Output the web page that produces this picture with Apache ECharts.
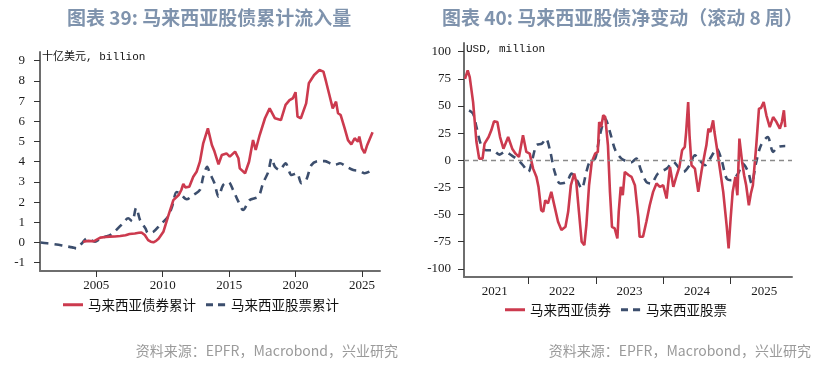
<!DOCTYPE html>
<html>
<head>
<meta charset="utf-8">
<script src="https://cdn.jsdelivr.net/npm/echarts@6/dist/echarts.min.js"></script>
<style>
html,body{margin:0;padding:0;background:#fff;}
#c{width:838px;height:365px;}
</style>
</head>
<body>
<div id="c"></div>
<script>
// ---------- Chart 39: cumulative flows (billion USD) ----------
const cumTitle = '图表 39: 马来西亚股债累计流入量';
const cumUnit = '十亿美元, billion';
const cumYTicks = [-1, 0, 1, 2, 3, 4, 5, 6, 7, 8, 9];
const cumXTicks = [2005, 2010, 2015, 2020, 2025];
const bondCumName = '马来西亚债券累计';
const equityCumName = '马来西亚股票累计';
const bondCumYears = [2004.0,2004.4,2004.8,2005.3,2005.7,2006.0,2006.4,2006.8,2007.2,2007.5,2007.9,2008.2,2008.4,2008.65,2008.9,2009.1,2009.3,2009.5,2009.7,2010.05,2010.4,2010.8,2011.2,2011.4,2011.55,2011.7,2012.0,2012.3,2012.55,2012.8,2013.05,2013.4,2013.7,2013.9,2014.2,2014.45,2014.8,2015.05,2015.45,2015.7,2015.8,2016.2,2016.5,2016.8,2017.0,2017.3,2017.7,2018.05,2018.45,2018.9,2019.25,2019.55,2019.8,2020.0,2020.15,2020.4,2020.8,2021.0,2021.4,2021.8,2022.1,2022.3,2022.55,2022.8,2023.05,2023.2,2023.4,2023.7,2023.95,2024.2,2024.45,2024.7,2024.8,2025.0,2025.2,2025.4,2025.8];
const bondCumVals = [0.04,0.08,0.06,0.24,0.27,0.29,0.30,0.32,0.36,0.42,0.45,0.48,0.50,0.37,0.12,0.04,0.01,0.08,0.20,0.53,1.28,2.10,2.35,2.60,2.90,2.73,2.76,3.26,3.50,4.00,4.91,5.65,4.83,4.50,3.87,4.33,4.41,4.25,4.50,4.17,3.67,3.43,4.00,5.07,4.58,5.32,6.15,6.64,6.15,6.06,6.81,7.05,7.14,7.44,6.23,6.15,6.89,7.88,8.29,8.54,8.46,7.96,7.30,6.64,6.97,6.40,6.31,5.65,5.07,4.86,5.16,4.99,5.24,4.66,4.42,4.83,5.46];
const equityCumYears = [2000.8,2001.3,2002.0,2002.6,2003.2,2003.5,2003.9,2004.3,2004.9,2005.3,2005.65,2006.0,2006.4,2007.0,2007.4,2007.7,2008.0,2008.3,2008.7,2008.9,2009.3,2009.8,2010.4,2010.7,2011.05,2011.3,2011.8,2012.3,2012.8,2013.05,2013.35,2013.55,2013.9,2014.2,2014.55,2014.95,2015.3,2015.7,2016.05,2016.55,2017.2,2017.55,2017.95,2018.2,2018.45,2018.8,2019.25,2019.7,2020.1,2020.45,2020.8,2021.2,2021.7,2022.2,2022.6,2022.95,2023.35,2023.85,2024.35,2024.85,2025.2,2025.8];
const equityCumVals = [0.00,-0.04,-0.10,-0.17,-0.24,-0.29,-0.05,0.20,0.04,0.20,0.29,0.35,0.55,0.95,1.20,1.05,1.72,1.10,0.70,0.46,0.53,0.87,1.28,1.77,2.50,2.43,2.14,2.35,2.60,3.26,3.75,3.43,2.93,2.27,2.85,3.00,2.60,2.02,1.61,2.10,2.27,2.93,3.50,4.17,3.75,3.59,3.92,3.34,3.43,2.93,3.09,3.84,4.03,4.03,3.92,3.84,3.92,3.75,3.59,3.54,3.43,3.59];

// ---------- Chart 40: rolling 8-week net change (million USD) ----------
const netTitle = '图表 40: 马来西亚股债净变动（滚动 8 周）';
const netUnit = 'USD, million';
const netYTicks = [-100, -75, -50, -25, 0, 25, 50, 75, 100];
const netXTicks = [2022, 2023, 2024, 2025];
const netXLabels = [2021.5, 2022.5, 2023.5, 2024.5, 2025.5];
const bondNetName = '马来西亚债券';
const equityNetName = '马来西亚股票';
const bondNetYears = [2021.06,2021.10,2021.13,2021.18,2021.23,2021.27,2021.32,2021.35,2021.41,2021.45,2021.49,2021.54,2021.58,2021.63,2021.70,2021.76,2021.81,2021.86,2021.92,2021.97,2022.02,2022.07,2022.12,2022.15,2022.19,2022.22,2022.25,2022.29,2022.34,2022.39,2022.44,2022.49,2022.55,2022.59,2022.63,2022.68,2022.71,2022.75,2022.79,2022.83,2022.86,2022.90,2022.94,2022.99,2023.03,2023.05,2023.08,2023.11,2023.14,2023.18,2023.21,2023.24,2023.28,2023.32,2023.34,2023.37,2023.40,2023.43,2023.45,2023.49,2023.53,2023.58,2023.63,2023.65,2023.70,2023.75,2023.80,2023.85,2023.90,2023.95,2024.00,2024.05,2024.10,2024.15,2024.20,2024.24,2024.28,2024.32,2024.34,2024.37,2024.39,2024.42,2024.47,2024.52,2024.57,2024.62,2024.64,2024.67,2024.70,2024.74,2024.76,2024.79,2024.84,2024.89,2024.94,2024.97,2025.00,2025.03,2025.07,2025.10,2025.13,2025.17,2025.20,2025.23,2025.27,2025.30,2025.33,2025.38,2025.42,2025.45,2025.49,2025.53,2025.58,2025.63,2025.68,2025.73,2025.76,2025.79,2025.81];
const bondNetVals = [75,82.7,76.6,53.6,16.8,1.5,1.5,15.3,21.4,27.6,35.8,35.2,21.4,10.7,21.4,10.7,6.1,3.1,23.0,7.7,6.1,-7.7,-15.3,-24.5,-46,-47.5,-36.8,-39.8,-29.1,-42.9,-56.7,-64.3,-61.3,-47.5,-23,-12.3,-19.9,-47.5,-75,-78.1,-59.7,-23,-1.5,6.1,7.7,35.2,30.6,41.4,39.8,13.8,-29.1,-61.3,-62.8,-72,-47.5,-24.5,-32.2,-10.7,-9.2,-13.8,-15.3,-23,-52.1,-70.5,-70.5,-56.7,-41.4,-29.1,-21.4,-24.5,-23,-35.2,-6.1,-24.5,-13.8,-6.1,9.2,12.3,26,53.6,23,-4.6,-7.7,-29.1,-9.2,7.7,13.8,29.1,26,36.8,26,13.8,-7.7,-29.1,-59.7,-81.2,-53.6,-29.1,-15.3,-32.2,19.9,-1.5,-13.8,-23,-41.4,-30.6,-23,13.8,47.5,48.1,53.6,41.4,30.6,39.8,35.2,29.1,35.2,46,30.6];
const equityNetYears = [2021.12,2021.18,2021.23,2021.30,2021.37,2021.47,2021.57,2021.65,2021.75,2021.85,2021.92,2022.00,2022.05,2022.12,2022.20,2022.26,2022.32,2022.39,2022.47,2022.57,2022.64,2022.72,2022.79,2022.86,2022.91,2022.99,2023.06,2023.14,2023.21,2023.29,2023.38,2023.46,2023.52,2023.60,2023.67,2023.75,2023.82,2023.92,2024.05,2024.15,2024.22,2024.30,2024.39,2024.47,2024.54,2024.62,2024.71,2024.79,2024.86,2024.94,2025.01,2025.11,2025.18,2025.26,2025.31,2025.38,2025.45,2025.55,2025.63,2025.70,2025.81];
const equityNetVals = [46,42.9,30.6,13.8,9.2,9.2,5.2,7.7,4.6,0,-4.6,-10.7,-1.5,13.8,15.3,19.9,9.2,-10.7,-21.4,-19.9,-12.3,-18.4,-26,-10.7,-1.5,1.5,23,38.3,26,9.2,1.5,-0.9,-2,1.5,-9.2,-20,-21.4,-12.3,-7.7,-1.5,-6.1,-10.7,-4.6,4.6,0,-4.6,3.1,10.7,1.5,-16.8,-18.4,-12.3,-3.1,-10.7,-21.4,-1.5,13.8,21.4,7.7,12.3,13.2];

const sourceText = '资料来源：EPFR，Macrobond，兴业研究';

// ---------- styles ----------
const RED = '#cc3a4e';
const NAVY = '#3c4e6d';
const TITLE_COLOR = '#7f93ad';
const AXIS_LINE = '#6e6e6e';
const LABEL_FONT = {fontFamily: 'Liberation Serif', fontSize: 13, color: '#1a1a1a'};
const pair = (xs, ys) => xs.map((x, i) => [x, ys[i]]);
const cjk = '"Noto Sans CJK SC", "Noto Sans", sans-serif';
const SOLID_ICON = 'path://M0,0H20V3H0Z';
const DASH_ICON = 'path://M0,0H7V3H0Z M12,0H19V3H12Z M19.9,0H20V3H19.9Z';

function valueAxis(opts) {
  return Object.assign({
    type: 'value',
    splitLine: {show: false},
    axisLine: {show: true, onZero: false, lineStyle: {color: AXIS_LINE, width: 2}},
    axisTick: {show: true, length: 6, lineStyle: {color: '#333', width: 1}},
  }, opts);
}

const chart = echarts.init(document.getElementById('c'), null, {renderer: 'canvas'});
chart.setOption({
  animation: false,
  backgroundColor: '#fff',
  title: [
    {text: cumTitle, left: 62, top: 3, textStyle: {fontFamily: cjk, fontSize: 19, fontWeight: 'bold', color: TITLE_COLOR}},
    {text: netTitle, left: 437, top: 3, textStyle: {fontFamily: cjk, fontSize: 19, fontWeight: 'bold', color: TITLE_COLOR}}
  ],
  grid: [
    {left: 40, top: 52, width: 340, height: 219, containLabel: false},
    {left: 464, top: 43, width: 328, height: 234, containLabel: false}
  ],
  xAxis: [
    valueAxis({gridIndex: 0, min: 2000.76, max: 2026.36,
      axisTick: {show: true, length: 6, lineStyle: {color: '#333'}, customValues: cumXTicks},
      axisLabel: Object.assign({margin: 8, customValues: cumXTicks, formatter: v => String(Math.round(v))}, LABEL_FONT)}),
    valueAxis({gridIndex: 1, min: 2021.045, max: 2025.91,
      axisTick: {show: true, length: 7, lineStyle: {color: '#333'}, customValues: netXTicks},
      axisLabel: Object.assign({margin: 8, customValues: netXLabels, formatter: v => String(Math.floor(v))}, LABEL_FONT)})
  ],
  yAxis: [
    valueAxis({gridIndex: 0, min: -1.41, max: 9.43,
      axisTick: {show: true, length: 6, lineStyle: {color: '#333'}, customValues: cumYTicks},
      axisLabel: Object.assign({margin: 15, customValues: cumYTicks}, LABEL_FONT)}),
    valueAxis({gridIndex: 1, min: -107.5, max: 108,
      axisTick: {show: true, length: 6, lineStyle: {color: '#333'}, customValues: netYTicks},
      axisLabel: Object.assign({margin: 13, customValues: netYTicks}, LABEL_FONT)})
  ],
  legend: [
    {data: [{name: bondCumName, icon: SOLID_ICON}, {name: equityCumName, icon: DASH_ICON}],
      left: 58, top: 293, itemWidth: 20, itemHeight: 3, itemGap: 10,
      textStyle: {fontFamily: cjk, fontSize: 13.5, color: '#111'}},
    {data: [{name: bondNetName, icon: SOLID_ICON}, {name: equityNetName, icon: DASH_ICON}],
      left: 500, top: 298, itemWidth: 20, itemHeight: 3, itemGap: 10,
      textStyle: {fontFamily: cjk, fontSize: 13.5, color: '#111'}}
  ],
  graphic: [
    {type: 'text', left: 42, top: 52, style: {text: cumUnit, font: '11px "Liberation Mono", "Noto Sans CJK SC", monospace', fill: '#111'}},
    {type: 'text', left: 466, top: 44, style: {text: netUnit, font: '11px "Liberation Mono", monospace', fill: '#111'}},
    {type: 'text', x: 398, y: 351, style: {text: sourceText, font: '14px ' + cjk, fill: '#9a9a9a', textAlign: 'right', textVerticalAlign: 'middle'}},
    {type: 'text', x: 811, y: 351, style: {text: sourceText, font: '14px ' + cjk, fill: '#9a9a9a', textAlign: 'right', textVerticalAlign: 'middle'}}
  ],
  series: [
    {name: bondCumName, type: 'line', xAxisIndex: 0, yAxisIndex: 0, data: pair(bondCumYears, bondCumVals),
      symbol: 'none', lineStyle: {color: RED, width: 2.6}, itemStyle: {color: RED}, z: 3},
    {name: equityCumName, type: 'line', xAxisIndex: 0, yAxisIndex: 0, data: pair(equityCumYears, equityCumVals),
      symbol: 'none', smooth: 0.3, lineStyle: {color: NAVY, width: 2.6, type: [8, 6]}, itemStyle: {color: NAVY}, z: 2},
    {name: bondNetName, type: 'line', xAxisIndex: 1, yAxisIndex: 1, data: pair(bondNetYears, bondNetVals),
      symbol: 'none', lineStyle: {color: RED, width: 2.6}, itemStyle: {color: RED}, z: 3,
      markLine: {silent: true, symbol: ['none', 'none'], label: {show: false},
        lineStyle: {color: '#8a8a8a', type: [5, 4], width: 1.3}, data: [{yAxis: 0}]}},
    {name: equityNetName, type: 'line', xAxisIndex: 1, yAxisIndex: 1, data: pair(equityNetYears, equityNetVals),
      symbol: 'none', smooth: 0.3, lineStyle: {color: NAVY, width: 2.6, type: [8, 6]}, itemStyle: {color: NAVY}, z: 2}
  ]
});
</script>
</body>
</html>
